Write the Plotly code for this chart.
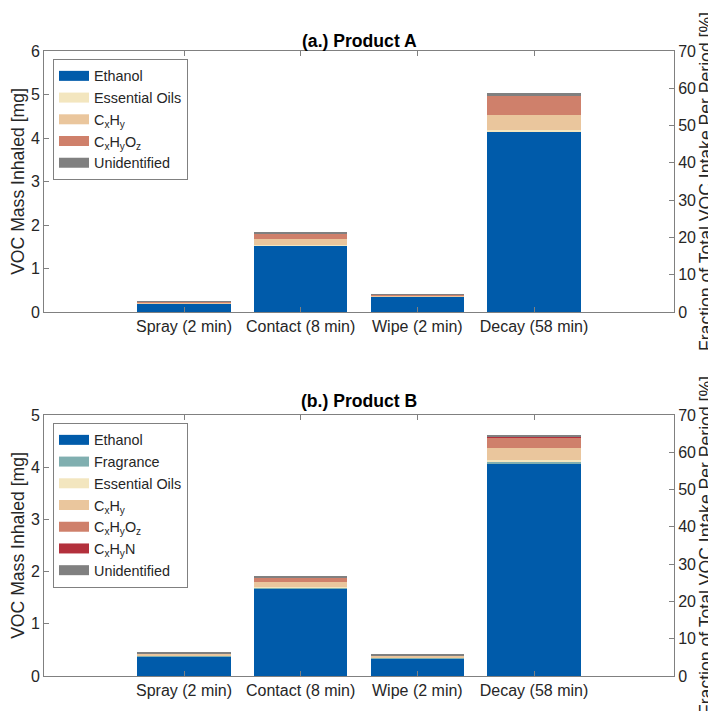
import plotly.graph_objects as go

categories = ["Spray (2 min)", "Contact (8 min)", "Wipe (2 min)", "Decay (58 min)"]

# Product A (mg)
a_ethanol = [0.19, 1.52, 0.35, 4.16]
a_essential = [0.005, 0.01, 0.005, 0.02]
a_cxhy = [0.03, 0.15, 0.03, 0.34]
a_cxhyoz = [0.02, 0.13, 0.02, 0.44]
a_unident = [0.005, 0.01, 0.005, 0.08]

# Product B (mg)
b_ethanol = [0.38, 1.68, 0.34, 4.08]
b_fragrance = [0.005, 0.01, 0.005, 0.03]
b_essential = [0.005, 0.02, 0.005, 0.02]
b_cxhy = [0.04, 0.10, 0.035, 0.24]
b_cxhyoz = [0.01, 0.08, 0.015, 0.20]
b_cxhyn = [0.0, 0.005, 0.0, 0.01]
b_unident = [0.005, 0.01, 0.005, 0.03]

left_ticks_a = [0, 1, 2, 3, 4, 5, 6]
left_ticks_b = [0, 1, 2, 3, 4, 5]
right_ticks = [0, 10, 20, 30, 40, 50, 60, 70]

C_ETH = "#005BAA"
C_FRA = "#80AFB0"
C_EO = "#F3E6BF"
C_CXHY = "#EAC69D"
C_CXHYOZ = "#CF806B"
C_CXHYN = "#B3303C"
C_UNI = "#808080"

FONT = "Liberation Sans, Arial, sans-serif"

fig = go.Figure()

series_a = [
    ("Ethanol", a_ethanol, C_ETH),
    ("Essential Oils", a_essential, C_EO),
    ("C<sub>x</sub>H<sub>y</sub>", a_cxhy, C_CXHY),
    ("C<sub>x</sub>H<sub>y</sub>O<sub>z</sub>", a_cxhyoz, C_CXHYOZ),
    ("Unidentified", a_unident, C_UNI),
]
series_b = [
    ("Ethanol", b_ethanol, C_ETH),
    ("Fragrance", b_fragrance, C_FRA),
    ("Essential Oils", b_essential, C_EO),
    ("C<sub>x</sub>H<sub>y</sub>", b_cxhy, C_CXHY),
    ("C<sub>x</sub>H<sub>y</sub>O<sub>z</sub>", b_cxhyoz, C_CXHYOZ),
    ("C<sub>x</sub>H<sub>y</sub>N", b_cxhyn, C_CXHYN),
    ("Unidentified", b_unident, C_UNI),
]

def add_series(series, xa, ya, leg, tag):
    for name, vals, col in series:
        grp = tag + name
        fig.add_trace(go.Bar(x=categories, y=vals, name=name, marker_color=col,
                             marker_line_width=0, xaxis=xa, yaxis=ya,
                             showlegend=False, legendgroup=grp))
    for name, vals, col in series:
        grp = tag + name
        # legend proxy: wide colour swatch like the original legend
        fig.add_trace(go.Scatter(x=categories, y=[None] * len(categories), name=name,
                                 mode="lines", line=dict(color=col, width=14),
                                 xaxis=xa, yaxis=ya, legend=leg, legendgroup=grp,
                                 hoverinfo="skip"))

add_series(series_a, "x", "y", "legend", "a")
add_series(series_b, "x2", "y3", "legend2", "b")

# invisible traces to carry the right-hand axes
fig.add_trace(go.Scatter(x=categories, y=[None] * 4, xaxis="x", yaxis="y2",
                         showlegend=False, hoverinfo="skip", mode="lines"))
fig.add_trace(go.Scatter(x=categories, y=[None] * 4, xaxis="x2", yaxis="y4",
                         showlegend=False, hoverinfo="skip", mode="lines"))

W, H = 716, 711
x0, x1 = 36 / W, 666 / W
top_dom = [1 - 304 / H, 1 - 43 / H]
bot_dom = [1 - 668 / H, 1 - 407 / H]

axcol = "#808080"
tickfont = dict(family=FONT, size=16, color="#262626")
titlefont = dict(family=FONT, size=17.6, color="#262626")

xcommon = dict(type="category", range=[-1.2, 4.2], showline=True, linecolor=axcol,
               linewidth=1, mirror="ticks", ticks="inside", ticklen=5, tickcolor=axcol,
               tickfont=tickfont, showgrid=False, zeroline=False, automargin=False,
               domain=[x0, x1], fixedrange=True)
ycommon = dict(showline=True, linecolor=axcol, linewidth=1, ticks="inside", ticklen=5,
               tickcolor=axcol, tickfont=tickfont, showgrid=False, zeroline=False,
               automargin=False, title_font=titlefont)

legcommon = dict(xanchor="left", yanchor="top", bordercolor=axcol, borderwidth=1,
                 bgcolor="white", font=dict(family=FONT, size=14.4, color="#262626"),
                 traceorder="normal", itemwidth=30, tracegroupgap=0)

layout = dict(
    width=W, height=H,
    margin=dict(l=0, r=0, t=0, b=0),
    paper_bgcolor="white", plot_bgcolor="white",
    barmode="stack", bargap=0.2,
    font=dict(family=FONT, color="#262626"),
    xaxis=dict(**xcommon, anchor="y"),
    xaxis2=dict(**xcommon, anchor="y3"),
    yaxis=dict(**ycommon, domain=top_dom, range=[0, 6], tickvals=left_ticks_a,
               title_text="VOC Mass Inhaled [mg]", title_standoff=14, anchor="x"),
    yaxis2=dict(**ycommon, overlaying="y", side="right", range=[0, 70], tickvals=right_ticks,
                title_text="Fraction of Total VOC Intake Per Period [%]", title_standoff=4,
                anchor="x"),
    yaxis3=dict(**ycommon, domain=bot_dom, range=[0, 5], tickvals=left_ticks_b,
                title_text="VOC Mass Inhaled [mg]", title_standoff=14, anchor="x2"),
    yaxis4=dict(**ycommon, overlaying="y3", side="right", range=[0, 70], tickvals=right_ticks,
                title_text="Fraction of Total VOC Intake Per Period [%]", title_standoff=4,
                anchor="x2"),
    legend=dict(x=45 / W, y=1 - 51 / H, **legcommon),
    legend2=dict(x=45 / W, y=1 - 415 / H, **legcommon),
    annotations=[
        dict(text="<b>(a.) Product A</b>", x=(x0 + x1) / 2, y=1 - 33 / H, xref="paper",
             yref="paper", xanchor="center", yanchor="middle", showarrow=False,
             font=dict(family=FONT, size=17.6, color="black")),
        dict(text="<b>(b.) Product B</b>", x=(x0 + x1) / 2, y=1 - 393 / H, xref="paper",
             yref="paper", xanchor="center", yanchor="middle", showarrow=False,
             font=dict(family=FONT, size=17.6, color="black")),
    ],
)
fig.update_layout(**layout)

fig.write_html("out.html")
